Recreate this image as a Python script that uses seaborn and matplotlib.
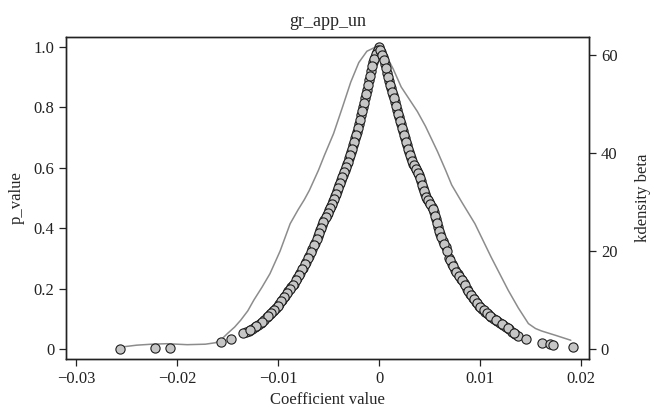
import pandas as pd
import matplotlib
matplotlib.use("Agg")
import matplotlib.pyplot as plt
import seaborn as sns

# coefficient estimates and p-values (left arm, peak -> tail)
coef_left = [0.0000, -0.0002, -0.0004, -0.0006, -0.0008, -0.0010, -0.0012, -0.0014,
             -0.0016, -0.0018, -0.0020, -0.0022, -0.0024, -0.0026, -0.0028, -0.0030,
             -0.0032, -0.0034, -0.0036, -0.0038, -0.0040, -0.0042, -0.0044, -0.0046,
             -0.0048, -0.0050, -0.0052, -0.0054, -0.0056, -0.0058, -0.0060, -0.0063,
             -0.0066, -0.0069, -0.0072, -0.0075, -0.0078, -0.0081, -0.0084, -0.0087,
             -0.0090, -0.0093, -0.0096, -0.0099, -0.0102, -0.0105, -0.0108, -0.0111,
             -0.0114, -0.0117, -0.0120, -0.0123, -0.0126, -0.0129, -0.0132, -0.0135,
             -0.0147, -0.0157, -0.0207, -0.0222, -0.0257]
pval_left = [1.000, 0.984, 0.968, 0.952, 0.922, 0.890, 0.858, 0.831,
             0.802, 0.774, 0.746, 0.720, 0.698, 0.676, 0.653, 0.631,
             0.612, 0.594, 0.577, 0.560, 0.542, 0.524, 0.506, 0.489,
             0.473, 0.459, 0.444, 0.428, 0.411, 0.393, 0.376, 0.350,
             0.330, 0.309, 0.289, 0.270, 0.251, 0.234, 0.217, 0.204,
             0.191, 0.177, 0.163, 0.148, 0.136, 0.125, 0.116, 0.105,
             0.095, 0.086, 0.080, 0.073, 0.067, 0.061, 0.057, 0.052,
             0.032, 0.022, 0.003, 0.003, 0.002]

# more estimates packed in between on the left arm
coef_left_b = [-0.0001, -0.0003, -0.0005, -0.0007, -0.0009, -0.0011, -0.0013, -0.0015,
               -0.0017, -0.0019, -0.0021, -0.0023, -0.0025, -0.0027, -0.0029, -0.0031,
               -0.0033, -0.0035, -0.0037, -0.0039, -0.0041, -0.0043, -0.0045, -0.0047,
               -0.0049, -0.0051, -0.0053, -0.0055, -0.0057, -0.0059, -0.0061, -0.0064,
               -0.0067, -0.0070, -0.0073, -0.0076, -0.0079, -0.0082, -0.0085, -0.0088,
               -0.0091, -0.0094, -0.0097, -0.0100, -0.0104, -0.0107, -0.0110, -0.0116,
               -0.0122, -0.0128]
pval_left_b = [0.991, 0.977, 0.961, 0.937, 0.905, 0.875, 0.845, 0.816,
               0.789, 0.759, 0.733, 0.709, 0.687, 0.664, 0.641, 0.621,
               0.603, 0.585, 0.569, 0.551, 0.533, 0.515, 0.497, 0.481,
               0.466, 0.451, 0.436, 0.420, 0.402, 0.385, 0.366, 0.343,
               0.322, 0.302, 0.283, 0.264, 0.245, 0.228, 0.213, 0.199,
               0.186, 0.172, 0.158, 0.144, 0.129, 0.119, 0.108, 0.089,
               0.075, 0.063]

# right arm
coef_right = [0.0002, 0.0004, 0.0006, 0.0008, 0.0010, 0.0012, 0.0014, 0.0016,
              0.0018, 0.0020, 0.0022, 0.0024, 0.0026, 0.0028, 0.0030, 0.0032,
              0.0034, 0.0036, 0.0038, 0.0040, 0.0042, 0.0044, 0.0046, 0.0048,
              0.0050, 0.0052, 0.0054, 0.0056, 0.0058, 0.0060, 0.0063, 0.0066,
              0.0069, 0.0072, 0.0075, 0.0078, 0.0081, 0.0084, 0.0087, 0.0090,
              0.0093, 0.0096, 0.0099, 0.0102, 0.0105, 0.0108, 0.0111, 0.0114,
              0.0117, 0.0120, 0.0123, 0.0126, 0.0129, 0.0132, 0.0135, 0.0138,
              0.0146, 0.0161, 0.0169, 0.0172, 0.0192]
pval_right = [0.982, 0.966, 0.944, 0.914, 0.888, 0.863, 0.841, 0.819,
              0.791, 0.767, 0.744, 0.722, 0.698, 0.675, 0.654, 0.632,
              0.614, 0.603, 0.590, 0.577, 0.556, 0.532, 0.512, 0.498,
              0.486, 0.472, 0.453, 0.430, 0.404, 0.381, 0.357, 0.337,
              0.303, 0.281, 0.262, 0.247, 0.233, 0.218, 0.200, 0.182,
              0.169, 0.156, 0.144, 0.134, 0.124, 0.115, 0.107, 0.099,
              0.092, 0.085, 0.079, 0.072, 0.065, 0.058, 0.050, 0.043,
              0.034, 0.020, 0.016, 0.014, 0.006]

coef_right_b = [0.0001, 0.0003, 0.0005, 0.0007, 0.0009, 0.0011, 0.0013, 0.0015,
                0.0017, 0.0019, 0.0021, 0.0023, 0.0025, 0.0027, 0.0029, 0.0031,
                0.0033, 0.0035, 0.0037, 0.0039, 0.0041, 0.0043, 0.0045, 0.0047,
                0.0049, 0.0051, 0.0053, 0.0055, 0.0057, 0.0059, 0.0061, 0.0064,
                0.0067, 0.0070, 0.0073, 0.0076, 0.0079, 0.0082, 0.0085, 0.0088,
                0.0091, 0.0094, 0.0097, 0.0100, 0.0104, 0.0107, 0.0110, 0.0116,
                0.0122, 0.0128, 0.0134]
pval_right_b = [0.990, 0.975, 0.956, 0.929, 0.901, 0.875, 0.852, 0.830,
                0.805, 0.779, 0.755, 0.733, 0.710, 0.686, 0.664, 0.643,
                0.623, 0.608, 0.596, 0.584, 0.566, 0.544, 0.522, 0.505,
                0.492, 0.479, 0.463, 0.442, 0.417, 0.392, 0.372, 0.348,
                0.325, 0.295, 0.274, 0.256, 0.242, 0.228, 0.212, 0.194,
                0.178, 0.165, 0.152, 0.140, 0.130, 0.120, 0.111, 0.095,
                0.082, 0.069, 0.053]

# kernel density of beta (right axis)
kde_x = [-0.0256, -0.0240, -0.0225, -0.0210, -0.0190, -0.0172, -0.0162, -0.0156,
         -0.0150, -0.0143, -0.0137, -0.0130, -0.0124, -0.0116, -0.0108, -0.0098,
         -0.0088, -0.0080, -0.0074, -0.0069, -0.0060, -0.0054, -0.0045, -0.0036,
         -0.0028, -0.0020, -0.0012, -0.0005, 0.0001, 0.0007, 0.0014, 0.0022,
         0.0030, 0.0038, 0.0046, 0.0058, 0.0066, 0.0072, 0.0082, 0.0095,
         0.0103, 0.0111, 0.0120, 0.0128, 0.0138, 0.0148, 0.0155, 0.0161,
         0.0175, 0.0190]
kde_y = [0.4, 0.8, 1.0, 1.1, 0.9, 1.0, 1.3, 2.0,
         3.2, 4.5, 5.9, 7.8, 10.0, 12.6, 15.4, 20.0,
         25.6, 28.5, 30.5, 32.4, 36.5, 39.6, 44.0, 49.5,
         54.5, 58.5, 60.8, 61.5, 61.4, 60.0, 57.2, 53.5,
         51.0, 48.5, 45.5, 40.3, 36.5, 33.5, 30.0, 25.6,
         22.2, 18.8, 15.2, 12.0, 8.4, 5.2, 4.2, 3.7,
         2.8, 1.8]

x_ticks = [-0.03, -0.02, -0.01, 0, 0.01, 0.02]
x_labels = ["\u22120.03", "\u22120.02", "\u22120.01", "0", "0.01", "0.02"]
p_ticks = [0, 0.2, 0.4, 0.6, 0.8, 1.0]
p_labels = ["0", "0.2", "0.4", "0.6", "0.8", "1.0"]
k_ticks = [0, 20, 40, 60]

df_pts = pd.DataFrame({"coef": coef_left + coef_left_b + coef_right + coef_right_b,
                       "p_value": pval_left + pval_left_b + pval_right + pval_right_b})
df_kde = pd.DataFrame({"beta": kde_x, "density": kde_y})

sns.set_style("ticks")
plt.rcParams['font.family'] = ['Liberation Serif', 'DejaVu Serif']
plt.rcParams['axes.unicode_minus'] = True

fig = plt.figure(figsize=(6.54, 4.19), dpi=100)
ax = fig.add_axes([0.101, 0.143, 0.7996, 0.7686])
ax2 = ax.twinx()

# density line sits behind the markers
sns.lineplot(data=df_kde, x="beta", y="density", ax=ax2, color="#8c8c8c",
             linewidth=1.1, sort=False)
sns.scatterplot(data=df_pts, x="coef", y="p_value", ax=ax, s=44,
                color="#c6c6c6", edgecolor="#1e1e1e", linewidth=0.8, zorder=3)
ax.set_zorder(ax2.get_zorder() + 1)
ax.patch.set_visible(False)

ax.set_xlim(-0.031, 0.0208)
ax.set_ylim(-0.033, 1.033)
ax2.set_ylim(-2.04, 63.7)

ax.set_xticks(x_ticks)
ax.set_xticklabels(x_labels)
ax.set_yticks(p_ticks)
ax.set_yticklabels(p_labels)
ax2.set_yticks(k_ticks)

for a in (ax, ax2):
    a.tick_params(direction="out", length=5, width=0.9, labelsize=12,
                  colors="#222222")
    for sp in a.spines.values():
        sp.set_visible(True)
        sp.set_linewidth(1.0)
        sp.set_color("#222222")

ax.set_xlabel("Coefficient value", fontsize=12, labelpad=4)
ax.set_ylabel("p_value", fontsize=12, labelpad=6)
ax2.set_ylabel("kdensity beta", fontsize=12, labelpad=13)
ax.set_title("gr_app_un", fontsize=13, pad=8)

fig.savefig("out.png", dpi=100)
